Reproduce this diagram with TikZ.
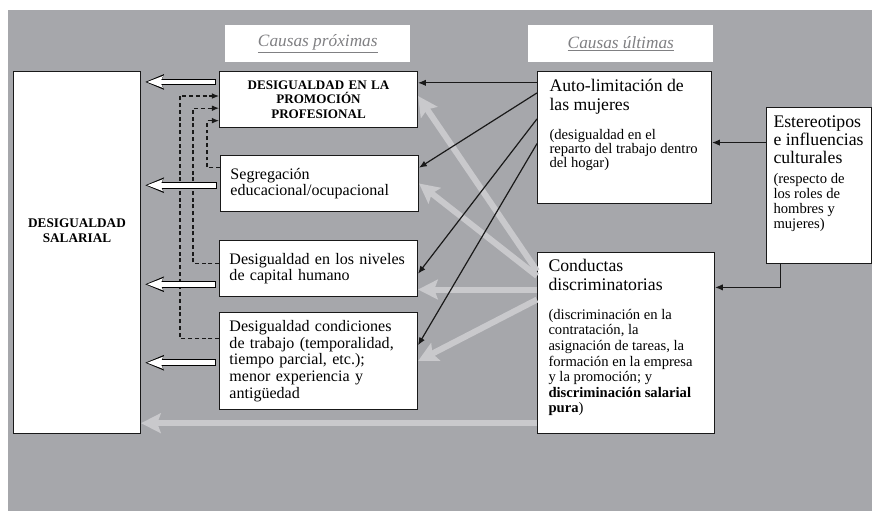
\documentclass[tikz,border=0pt]{standalone}
\usepackage{fontspec}
\setmainfont{Liberation Serif}
\usetikzlibrary{arrows.meta}

\definecolor{panel}{RGB}{166,167,171}
\definecolor{paleline}{RGB}{201,201,204}
\definecolor{headtext}{RGB}{128,128,131}
\hyphenpenalty=10000

\begin{document}
\begin{tikzpicture}[x=0.025cm,y=-0.025cm,
  box/.style={draw=black!90,line width=0.7pt,fill=white,anchor=north west},
  proxbox/.style={box,minimum width=4.95cm,text width=4.45cm,inner xsep=0.25cm,inner ysep=0pt,align=left,font=\fontsize{11.4}{11.8}\selectfont},
  headbox/.style={fill=white,anchor=north west,minimum width=4.625cm,minimum height=0.925cm,text=headtext,font=\fontsize{12.3}{14}\selectfont\itshape},
  hollowback/.style={line width=4.8pt,shorten >=3pt,shorten <=2pt,-{Stealth[length=13pt,width=10.5pt,inset=2pt]}},
  hollowfront/.style={white,line width=3.4pt,shorten >=4.3pt,shorten <=2.7pt,-{Stealth[length=11pt,width=8pt,inset=1.6pt]}},
  palearrow/.style={paleline,line width=4.3pt,-{Stealth[length=14pt,width=14pt,inset=2.5pt]}},
  causearrow/.style={black!90,line width=0.85pt,-{Latex[length=5.5pt,width=4.5pt]}},
  linkarrow/.style={black!90,line width=0.75pt,dash pattern=on 2.8pt off 2pt,-{Latex[length=5pt,width=4pt]}}
]
  \useasboundingbox (0,0) rectangle (872,511);
  \fill[panel] (8,10) rectangle (872,511);

  \node[headbox] (hprox) at (225,25) {\underline{Causas próximas}};
  \node[headbox] (hult) at (528,25) {\underline{Causas últimas}};

  \node[box,inner sep=0pt] (salarial) at (13,71) {\parbox[t][9.05cm][t]{3.175cm}{\centering\vspace*{3.67cm}\bfseries\fontsize{9.4}{10.7}\selectfont DESIGUALDAD\\ SALARIAL}};

  \node[proxbox,align=center,minimum height=1.4cm,font=\bfseries\fontsize{9.3}{10.3}\selectfont] (promo) at (219,71) {DESIGUALDAD EN LA\\ PROMOCIÓN\\ PROFESIONAL};
  \node[proxbox,minimum height=1.4cm] (segreg) at (220,155) {Segregación\\ educacional/ocupacional};
  \node[proxbox,minimum height=1.4cm] (capital) at (219,240) {Desigualdad en los niveles\\ de capital humano};
  \node[proxbox,minimum height=2.425cm] (condic) at (219,312) {Desigualdad condiciones\\ de trabajo (temporalidad,\\ tiempo parcial, etc.);\\ menor experiencia y\\ antigüedad};

  \node[box,inner xsep=0.3cm,inner ysep=0.2cm] (autolim) at (537,71) {\parbox[t][2.9cm][t]{3.75cm}{\raggedright
    \fontsize{12.6}{13.5}\selectfont Auto-limitación de\\ las mujeres\par
    \vspace{10.6pt}
    \fontsize{10.4}{10}\selectfont (desigualdad en el\\ reparto del trabajo dentro\\ del hogar)}};
  \node[box,inner xsep=0.275cm,inner ysep=0.17cm] (conduct) at (537,252) {\parbox[t][4.185cm][t]{3.875cm}{\raggedright
    \fontsize{12.6}{13.3}\selectfont Conductas\\ discriminatorias\par
    \vspace{9.5pt}
    \fontsize{10.4}{11.1}\selectfont (discriminación en la\\ contratación, la\\ asignación de tareas, la\\ formación en la empresa\\ y la promoción; y\\ \textbf{discriminación salarial}\\ \textbf{pura})}};
  \node[box,inner xsep=0.175cm,inner ysep=0.2cm] (estereo) at (766,107) {\parbox[t][3.5cm][t]{2.275cm}{\raggedright
    \fontsize{12.6}{12.8}\selectfont Estereotipos\\ e influencias\\ culturales\par
    \vspace{3.5pt}
    \fontsize{10.4}{10.7}\selectfont (respecto de\\ los roles de\\ hombres y\\ mujeres)}};

  \draw[palearrow] (conduct.141) -- (promo.2);
  \draw[palearrow] (conduct.143) -- (segreg.east);
  \draw[palearrow] (conduct.149) -- (capital.east |- conduct.149);
  \draw[palearrow] (conduct.154) -- (condic.east);
  \draw[palearrow] (conduct.222) -- (salarial.east |- conduct.222);

  \draw[causearrow] (autolim.148) -- (promo.east |- autolim.148);
  \draw[causearrow] (autolim.153) -- (segreg.9);
  \draw[causearrow] (autolim.168) -- (capital.357);
  \draw[causearrow] (autolim.184) -- (condic.9);
  \draw[causearrow] (estereo.141) -- (autolim.east |- estereo.141);
  \draw[causearrow] (estereo.244) |- (conduct.32);

  \draw[linkarrow] (segreg.171) -- ++(-13,0) |- (promo.192);
  \draw[linkarrow] (capital.177) -- ++(-26,0) |- (promo.185);
  \draw[linkarrow] (condic.167) -- ++(-39,0) |- (promo.178);

  \foreach \src/\ang in {promo/170,segreg/181,capital/189,condic/181}{
    \draw[hollowback] (\src.\ang) -- (salarial.east |- \src.\ang);
    \draw[hollowfront] (\src.\ang) -- (salarial.east |- \src.\ang);
  }
\end{tikzpicture}
\end{document}
